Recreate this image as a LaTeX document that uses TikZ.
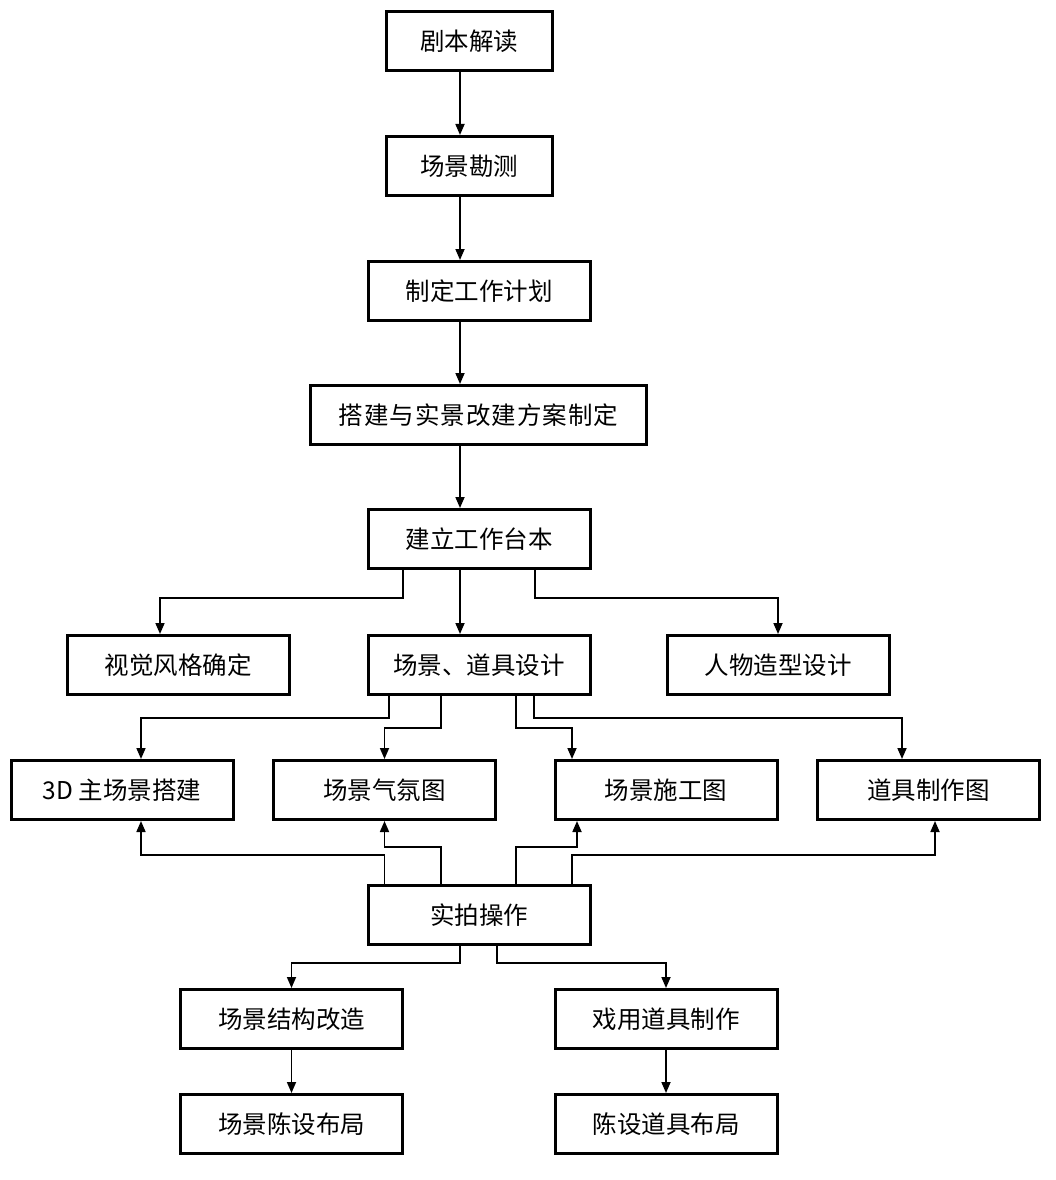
\documentclass[tikz,border=0pt]{standalone}
\usepackage{fontspec}
\newfontfamily\cjk{Noto Sans CJK SC}
\newfontfamily\cjkwide[LetterSpace=4]{Noto Sans CJK SC}
\usetikzlibrary{arrows.meta}
\begin{document}
\begin{tikzpicture}[x=1pt,y=-1pt,
  box/.style={draw=black,line width=3pt,fill=white,inner sep=0pt,
    font=\cjk\fontsize{24.5}{25}\selectfont,minimum height=59pt},
  w1/.style={minimum width=166pt},
  w2/.style={minimum width=222pt},
  w3/.style={minimum width=336pt},
  arr/.style={line width=1.7pt,-{Triangle[length=11pt,width=9pt]}}]
\useasboundingbox (0,0) rectangle (1056,1180);
\fill[white] (0,0) rectangle (1056,1180);
\coordinate (sx) at (460,0);
% nodes
\node[box,w1] (n1) at (469,41) {剧本解读};
\node[box,w1] (n2) at (469,166) {场景勘测};
\node[box,w2] (n3) at (479,291) {制定工作计划};
\node[box,w3,font=\cjkwide\fontsize{24.5}{25}\selectfont] (n4) at (478.5,415) {搭建与实景改建方案制定};
\node[box,w2] (n5) at (479,539) {建立工作台本};
\node[box,w2] (n6) at (178,665) {视觉风格确定};
\node[box,w2] (n7) at (479,665) {场景、道具设计};
\node[box,w2] (n8) at (778,665) {人物造型设计};
\node[box,w2] (n9) at (122,790) {3D 主场景搭建};
\node[box,w2] (n10) at (384.5,790) {场景气氛图};
\node[box,w2] (n11) at (666,790) {场景施工图};
\node[box,w2] (n12) at (928.5,790) {道具制作图};
\node[box,w2] (n13) at (479,915) {实拍操作};
\node[box,w2] (n14) at (291.5,1019) {场景结构改造};
\node[box,w2] (n15) at (666,1019) {戏用道具制作};
\node[box,w2] (n16) at (291.5,1124) {场景陈设布局};
\node[box,w2] (n17) at (666,1124) {陈设道具布局};
% spine
\draw[arr] (n1.south -| sx) -- (n2.north -| sx);
\draw[arr] (n2.south -| sx) -- (n3.north -| sx);
\draw[arr] (n3.south -| sx) -- (n4.north -| sx);
\draw[arr] (n4.south -| sx) -- (n5.north -| sx);
\draw[arr] (n5.south -| sx) -- (n7.north -| sx);
% from n5
\draw[arr] ([xshift=-76pt]n5.south) |- ([xshift=-18pt,yshift=36pt]n6.north) -- ([xshift=-18pt]n6.north);
\draw[arr] ([xshift=56pt]n5.south) |- ([yshift=36pt]n8.north) -- (n8.north);
% from n7
\draw[arr] ([xshift=-90pt]n7.south) |- ([xshift=19pt,yshift=41pt]n9.north) -- ([xshift=19pt]n9.north);
\draw[arr] ([xshift=-38pt]n7.south) |- ([yshift=31pt]n10.north) -- (n10.north);
\draw[arr] ([xshift=37pt]n7.south) |- ([xshift=-94pt,yshift=31pt]n11.north) -- ([xshift=-94pt]n11.north);
\draw[arr] ([xshift=55pt]n7.south) |- ([xshift=-26.5pt,yshift=41pt]n12.north) -- ([xshift=-26.5pt]n12.north);
% from n13 upward
\draw[arr] ([xshift=-94.5pt]n13.north) |- ([xshift=19pt,yshift=-34pt]n9.south) -- ([xshift=19pt]n9.south);
\draw[arr] ([xshift=-38pt]n13.north) |- ([yshift=-26pt]n10.south) -- (n10.south);
\draw[arr] ([xshift=37pt]n13.north) |- ([xshift=-89pt,yshift=-26pt]n11.south) -- ([xshift=-89pt]n11.south);
\draw[arr] ([xshift=93pt]n13.north) |- ([xshift=6.5pt,yshift=-34pt]n12.south) -- ([xshift=6.5pt]n12.south);
% from n13 downward
\draw[arr] ([xshift=-19pt]n13.south) |- ([yshift=25pt]n14.north) -- (n14.north);
\draw[arr] ([xshift=18pt]n13.south) |- ([yshift=25pt]n15.north) -- (n15.north);
\draw[arr] (n14) -- (n16);
\draw[arr] (n15) -- (n17);
\end{tikzpicture}
\end{document}
